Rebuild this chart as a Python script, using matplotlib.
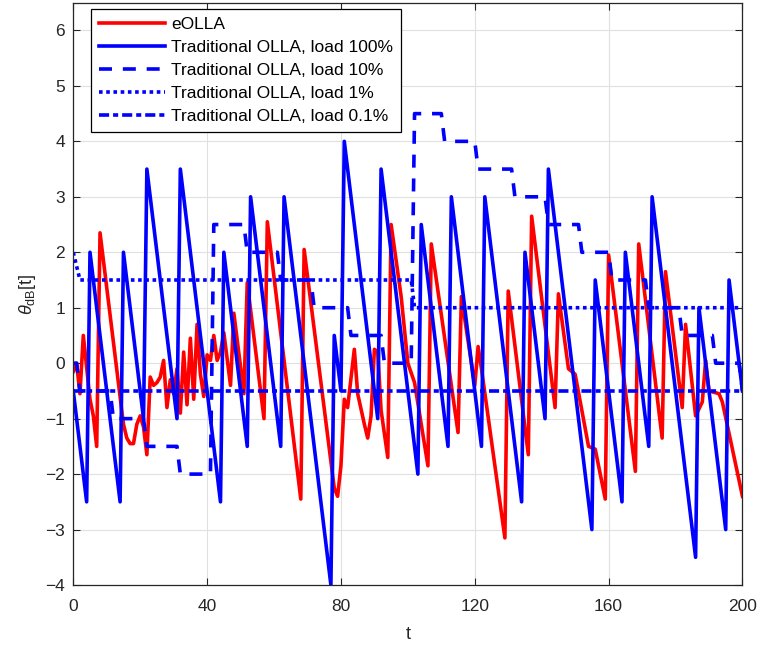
import matplotlib
matplotlib.use('Agg')
import matplotlib.pyplot as plt

plt.rcParams['font.family'] = ['Liberation Sans', 'DejaVu Sans']
plt.rcParams['mathtext.fontset'] = 'custom'
plt.rcParams['mathtext.rm'] = 'Liberation Sans'
plt.rcParams['mathtext.it'] = 'Liberation Sans:italic'

# eOLLA (vertices only)
eolla_t = [0, 1, 2, 3, 5, 6, 7, 8, 15, 16, 17, 18, 19, 20, 21, 22, 23, 24, 25, 26,
           27, 28, 29, 30, 31, 32, 33, 34, 35, 36, 37, 38, 39, 40, 41, 42, 43, 44, 45, 47,
           48, 51, 52, 57, 58, 68, 69, 78, 79, 80, 81, 82, 84, 85, 87, 88, 89, 90, 91, 92,
           94, 95, 98, 100, 102, 106, 107, 113, 115, 116, 120, 121, 122, 129, 130, 136, 137, 144, 145, 148,
           150, 154, 156, 159, 160, 168, 169, 176, 177, 182, 183, 186, 188, 189, 190, 193, 194, 200]
eolla_y = [-0.15, 0.0, -0.55, 0.5, -0.65, -0.95, -1.5, 2.35, -1.1, -1.35, -1.45, -1.45, -1.1, -0.95, -1.15, -1.65, -0.25, -0.4, -0.35, -0.25,
           0.05, -0.8, -0.3, -0.55, -0.1, -0.9, 0.2, -0.75, 0.45, -0.65, 0.7, -0.2, -0.6, 0.15, 0.05, 0.5, 0.05, 0.2, 0.55, -0.4,
           0.9, -0.55, 1.45, -1.0, 2.55, -2.45, 2.05, -2.25, -2.4, -1.85, -0.65, -0.8, 0.25, -0.55, -1.1, -1.35, -0.95, 0.25, 0.2, -0.85,
           -1.7, 2.5, 1.2, 0.0, -0.35, -1.85, 2.15, -0.4, -1.25, 1.2, -0.4, 0.3, -0.1, -3.15, 1.3, -1.65, 2.65, -0.8, 1.25, -0.1,
           -0.2, -1.5, -1.55, -2.45, 1.95, -1.95, 2.15, -1.35, 1.65, -0.8, 0.7, -0.95, -0.7, 0.05, -0.5, -0.55, -0.7, -2.4]

# traditional OLLA, load 100%
full_t = [0, 4, 5, 14, 15, 21, 22, 31, 32, 44, 45, 52, 53, 62, 63, 77, 78, 80, 81, 91, 92,
          103, 104, 112, 113, 122, 123, 134, 135, 141, 142, 155, 156, 164, 165, 172, 173, 186, 187, 195, 196, 200]
full_y = [-0.5, -2.5, 2, -2.5, 2, -1, 3.5, -1, 3.5, -2.5, 2, -1.5, 3, -1.5, 3, -4, 0.5, -0.5, 4, -1, 3.5,
          -2, 2.5, -1.5, 3, -1.5, 3, -2.5, 2, -1, 3.5, -3, 1.5, -2.5, 2, -1.5, 3, -3.5, 1, -3, 1.5, -0.5]

# load 10%
l10_t = [0, 1, 2, 11, 12, 21, 22, 31, 32, 41, 42, 51, 52, 61, 62, 71, 72, 82, 83, 92, 93,
         101, 102, 110, 111, 120, 121, 131, 132, 141, 142, 151, 152, 160, 161, 171, 172, 181, 182, 191, 192, 199, 200]
l10_y = [0, 0, -0.5, -0.5, -1, -1, -1.5, -1.5, -2, -2, 2.5, 2.5, 2, 2, 1.5, 1.5, 1, 1, 0.5, 0.5, 0,
         0, 4.5, 4.5, 4, 4, 3.5, 3.5, 3, 3, 2.5, 2.5, 2, 2, 1.5, 1.5, 1, 1, 0.5, 0.5, 0, 0, -0.5]

# load 1%
l1_t = [0, 2, 101, 102, 200]
l1_y = [2, 1.5, 1.5, 1, 1]

# load 0.1%
l01_t = [0, 200]
l01_y = [-0.5, -0.5]

fig = plt.figure(figsize=(7.6, 6.46), dpi=100)
ax = fig.add_axes([0.0964, 0.0944, 0.8805, 0.9014])

lw = 2.6
ax.plot(eolla_t, eolla_y, color=(1, 0, 0), lw=lw, label='eOLLA')
ax.plot(full_t, full_y, color=(0, 0, 1), lw=lw, label='Traditional OLLA, load 100%')
ax.plot(l10_t, l10_y, color=(0, 0, 1), lw=lw, ls=(0, (3.6, 3.0)), label='Traditional OLLA, load 10%')
ax.plot(l1_t, l1_y, color=(0, 0, 1), lw=lw, ls=(0, (1, 1)), label='Traditional OLLA, load 1%')
ax.plot(l01_t, l01_y, color=(0, 0, 1), lw=lw, ls=(0, (2.8, 1.1, 1.4, 1.1)), label='Traditional OLLA, load 0.1%')

ax.set_xlim(0, 200)
ax.set_ylim(-4, 6.5)
ax.set_xticks(range(0, 201, 40))
ax.set_yticks(range(-4, 7))
ax.tick_params(direction='in', top=True, right=True, length=5, width=0.8,
               colors='#262626', labelsize=12.5)
ax.tick_params(axis='x', pad=10)
ax.tick_params(axis='y', pad=6)
ax.grid(True, color='#e0e0e0', lw=0.8)
ax.set_axisbelow(True)
for s in ax.spines.values():
    s.set_color('#262626')
    s.set_linewidth(0.9)

ax.set_xlabel('t', fontsize=13, color='#262626', labelpad=9)
ax.set_ylabel(r'$\theta_{\rm dB}$[t]', fontsize=13, color='#262626', labelpad=5)

leg = ax.legend(loc='upper left', bbox_to_anchor=(0.0264, 0.989), borderaxespad=0,
                fontsize=12.5, handlelength=3.8, handletextpad=0.35, labelspacing=0.45,
                borderpad=0.45, fancybox=False, edgecolor='k', framealpha=1)
leg.get_frame().set_linewidth(0.9)

fig.savefig('out.png', dpi=100)
